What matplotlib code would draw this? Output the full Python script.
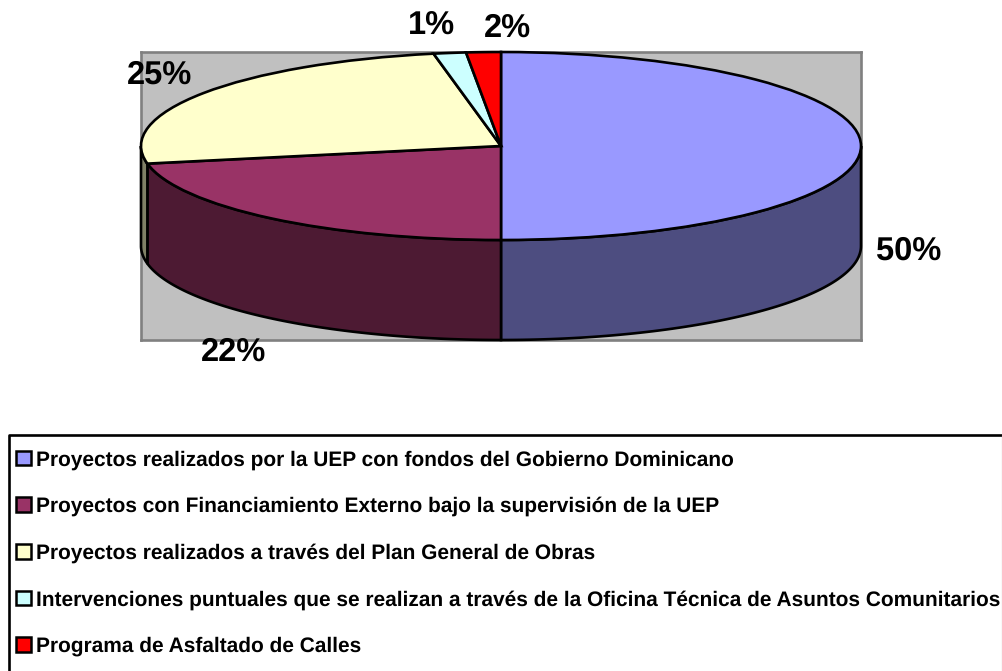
import matplotlib
matplotlib.use('Agg')
import matplotlib.pyplot as plt
import numpy as np
from matplotlib.lines import Line2D
from matplotlib.patches import Patch

plt.rcParams['font.family'] = ['Liberation Sans', 'DejaVu Sans']
plt.rcParams['font.weight'] = 'bold'
plt.rcParams['text.hinting'] = 'no_hinting'

W, H = 1003, 671

# Datos
categorias = [
    'Proyectos realizados por la UEP con fondos del Gobierno Dominicano',
    'Proyectos con Financiamiento Externo bajo la supervisión de la UEP',
    'Proyectos realizados a través del Plan General de Obras',
    'Intervenciones puntuales que se realizan a través de la Oficina Técnica de Asuntos Comunitarios',
    'Programa de Asfaltado de Calles',
]
valores = [50, 22, 25, 1.45, 1.55]
etiquetas = ['50%', '22%', '25%', '1%', '2%']
colores = ['#9999ff', '#993366', '#ffffcc', '#ccffff', '#ff0000']
colores_lado = ['#4d4d80', '#4d1a33', '#808066', '#668080', '#800000']

# posicion del centro de cada etiqueta, en pixeles
pos_etiquetas = [(909, 251), (234, 352), (160, 75), (432, 26), (507, 28)]

fig = plt.figure(figsize=(W / 100, H / 100), dpi=100)

# El area gris va de 141 a 861 en x, de 52 a 340 en y
ax = fig.add_axes([141 / W, 1 - 340 / H, 720 / W, 288 / H])
prof = 100 / 94

wedges, _ = ax.pie(valores, colors=colores, startangle=90, counterclock=False, radius=1,
                   frame=True, wedgeprops=dict(edgecolor='black', linewidth=1.9, zorder=5))
for w in wedges:
    w.set_clip_on(False)

ax.set_aspect('auto')
ax.set_xlim(-1, 1)
ax.set_ylim(-1 - prof, 1)
ax.set_xticks([])
ax.set_yticks([])
ax.set_facecolor('#c0c0c0')
for s in ax.spines.values():
    s.set_color('#808080')
    s.set_linewidth(1.9)

# Lados del pastel (solo la mitad de abajo se ve)
limites = np.cumsum([0] + valores) / sum(valores) * 360
for i in range(len(valores)):
    a1 = max(limites[i], 90)
    a2 = min(limites[i + 1], 270)
    if a2 <= a1:
        continue
    t = np.radians(np.linspace(a1, a2, 80))
    x = np.sin(t)
    y = np.cos(t)
    ax.fill(np.r_[x, x[::-1]], np.r_[y, y[::-1] - prof], facecolor=colores_lado[i],
            edgecolor='black', linewidth=1.9, zorder=3, clip_on=False)

for texto, (px, py) in zip(etiquetas, pos_etiquetas):
    fig.text(px / W, 1 - py / H, texto, fontsize=23.5, fontweight='bold',
             ha='center', va='center', color='black', zorder=10)

# Leyenda
handles = [Patch(facecolor=c, edgecolor='black', linewidth=1.8) for c in colores]
fig.legend(handles, categorias, loc='upper left', bbox_to_anchor=(16 / W, 1 - 450 / H),
           frameon=False, fontsize=15, handlelength=0.7, handleheight=0.7,
           handletextpad=0.27, labelspacing=1.295, borderpad=0, borderaxespad=0)

# Marco de la leyenda, cortado por abajo
fig.add_artist(Line2D([9 / W, 9 / W, 1002 / W], [0, 1 - 435 / H, 1 - 435 / H], color='black', linewidth=1.9))
fig.add_artist(Line2D([1002 / W, 1002 / W], [0, 1 - 435 / H], color='#808080', linewidth=0.8))

fig.savefig('out.png', dpi=100, facecolor='white')
